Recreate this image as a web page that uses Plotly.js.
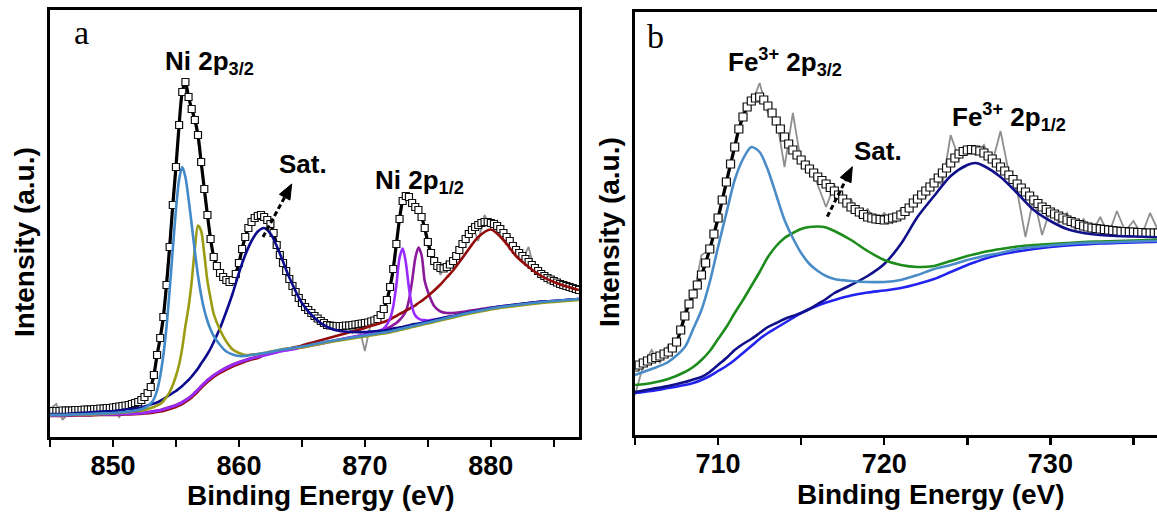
<!DOCTYPE html>
<html><head><meta charset="utf-8">
<script src="https://cdn.plot.ly/plotly-3.0.1.min.js"></script>
<style>html,body{margin:0;padding:0;overflow:hidden;background:#fff}#chart{width:1180px;height:513px}</style>
</head><body><div id="chart"></div>
<script>
// ---------- Panel a : Ni 2p ----------
const dataEnergyA = [
845,845.25,845.5,845.75, 846,846.25,846.5,846.75, 847,847.25,847.5,847.75, 848,848.25,848.5,848.75,
849,849.25,849.5,849.75, 850,850.25,850.5,850.75, 851,851.25,851.5,851.75, 852,852.25,852.5,852.75,
853,853.25,853.5,853.75, 854,854.25,854.5,854.75, 855,855.25,855.5,855.75, 856,856.25,856.5,856.75,
857,857.25,857.5,857.75, 858,858.25,858.5,858.75, 859,859.25,859.5,859.75, 860,860.25,860.5,860.75,
861,861.25,861.5,861.75, 862,862.25,862.5,862.75, 863,863.25,863.5,863.75, 864,864.25,864.5,864.75,
865,865.25,865.5,865.75, 866,866.25,866.5,866.75, 867,867.25,867.5,867.75, 868,868.25,868.5,868.75,
869,869.25,869.5,869.75, 870,870.25,870.5,870.75, 871,871.25,871.5,871.75, 872,872.25,872.5,872.75,
873,873.25,873.5,873.75, 874,874.25,874.5,874.75, 875,875.25,875.5,875.75, 876,876.25,876.5,876.75,
877,877.25,877.5,877.75, 878,878.25,878.5,878.75, 879,879.25,879.5,879.75, 880,880.25,880.5,880.75,
881,881.25,881.5,881.75, 882,882.25,882.5,882.75, 883,883.25,883.5,883.75, 884,884.25,884.5,884.75,
885,885.25,885.5,885.75, 886,886.25,886.5,886.75, 887];
const measuredA = [
26,26,26,26, 26.5,26.5,26.5,26.5, 27,27,27,27.5, 27.5,27.5,28,28,
28.5,28.5,29,29, 29.5,30,30.5,31, 31.5,32,33,34, 35,37,40,44,
50,62,82,99, 120,152,190,232, 270,312,345,355, 340,328,317,302,
275,248,222,198, 180,171,164,160, 157,155,157,163, 174,188,200,209,
215,219,221,222, 220,217,213,204, 192,182,174,166, 158,151,145,139,
134,130,127,124, 121,118.5,116,114, 112,111.5,111,111, 111,111,111.5,111.5,
112,112.5,113,113.5, 114,114.5,115.5,116.5, 118,122,128,137, 150,168,193,218,
236,241,240,234, 230,227,220,209, 195,184,176,171, 169,168.5,170,172.5,
176,181,187,193, 198,203,207,210, 212,214,215,215, 214,213,211,208,
204,200,196,191, 187,184,181,178, 175,172,169,166, 163,161,159,157.5,
156,154.5,153,152, 151,150,149,148, 147];

const rawEnergyA = [845,845.5,846,846.5,847,847.5,848,848.5,849,849.5,850,850.5,851,851.5,852,852.5,853,853.5,854,854.5,855,855.5,856,856.5,857,857.5,858,858.5,859,859.5,860,860.5,861,861.5,862,862.5,863,863.5,864,864.5,865,865.5,866,866.5,867,867.5,868,868.5,869,869.5,870,870.5,871,871.5,872,872.5,873,873.5,874,874.5,875,875.5,876,876.5,877,877.5,878,878.5,879,879.5,880,880.5,881,881.5,882,882.5,883,883.5,884,884.5,885,885.5,886,886.5,887];
const rawA = [28,33,17,25,27,24,28,26,29,27,30,20,31,34,34,40,49,80,120,192,270,348,340,318,276,224,178,166,155,158,175,198,216,222,219,214,190,175,157,146,133,128,120,117,111,112,109,113,104,112,86,116,114,130,148,195,236,243,227,222,190,180,162,176,168,190,196,212,196,222,210,216,200,200,184,178,190,165,166,157,160,150,155,146,150];

const fitEnergyA = [845,846,847,848,849,850,851,852,852.5,853,853.25,853.5,853.75,854,854.25,854.5,854.75,855,855.25,855.5,855.75,856,856.25,856.5,856.75,857,857.25,857.5,857.75,858,858.5,859,859.5,860,860.5,861,861.5,862,862.5,863,863.5,864,865,866,867,868,869,870,871,871.5,872,872.25,872.5,872.75,873,873.25,873.5,873.75,874,874.25,874.5,874.75,875,875.5,876,876.5,877,878,879,880,881,882,883,884,885,886,887];
const ni32Main = [22,22,22.5,23,23.5,24,25,27,29,33.5,38,46.5,61,82,110,147,188,227,257.5,270,260,238,212.5,185.5,161.5,142,127,116,107.5,101,92,85.5,82.5,81,81,82,83,84,85,86.5,87.5,88.5,90.5,93,95.5,97.5,99.5,101.5,103.5,104.5,105.5,106.5,107,108,108.5,109.5,110,111,111.5,112.5,113,114,114.5,116,117.5,119,120.5,123.5,126,128.5,130.5,132,133.5,135,136,137,138];
const ni32Sub = [22,22,22.5,22.5,23,23.5,24.5,26,27,29,30,31.5,33,36,40,45,52,61,72.5,89,111,130,155.5,188.5,211.5,206,183,156,138.5,123,107,95.5,87.5,84,82,82.5,83,84,85.5,86.5,88,88.5,89.5,92,94.5,96.5,98.5,100.5,102.5,103.5,104.5,105.5,106,107,107.5,108.5,109,110,110.5,111.5,112,113,113.5,115,116.5,118,119.5,122.5,125,127.5,129.5,131,132.5,134,135,136,137];
const ni32Sat = [23,23,24,24.5,25.5,26,27.5,29,30.5,32.5,33.5,34.5,36,38,40,42,44,46,48.5,51,54,57,60.5,64.5,68.5,73.5,78,83,88.5,95,109,125.5,143.5,164,182,196,205.5,209,203.5,191,175.5,159.5,134,119,110,106,105,105,106,106.5,107.5,108.5,109,109.5,110,111,111.5,112.5,113,113.5,114,115,115.5,117,118.5,120,121,124,126.5,129,131,132.5,134,135.5,136,137,138];
const ni12Main = [21.5,21.5,22,22,22.5,22.5,23,23.5,24,25,25.5,26,26.5,27.5,28.5,29.5,30.5,31.5,33,34.5,36.5,38.5,41,44,47,50.5,53.5,56.5,59,61.5,65.5,69,72,74.5,76.5,78.5,80,81.5,83,84.5,86,87,89.5,92,94.5,97.5,100,102.5,105.5,108.5,118.5,130.5,152,179,188.5,174.5,149,130,121.5,118.5,117,117,116.5,117.5,118.5,119.5,120.5,123.5,126,128.5,130.5,132,133.5,135,136,137,138];
const ni12Sub = [22,22,22.5,22.5,23,23,23.5,24,24.5,25.5,26,26.5,27,28,29,30,31,32,33.5,35,37,39,41.5,44.5,47.5,51,54,57,59.5,62,66,69.5,72.5,75,77,79,80.5,82,83.5,85,86.5,87.5,90,92.5,95,97.5,100,102.5,105.5,107.5,110,112,114,117,120.5,125.5,137,156,178.5,189.5,182,156,145.5,131,125.5,124,124,125.5,127.5,129.5,131,132.5,134,135.5,136,137,138];
const ni12Sat = [21,21,21.5,21.5,22,22,22.5,23,23.5,24,24.5,25,25.5,26,27,28,29,30,31.5,33,35,37,39.5,42.5,45.5,49,52,55,57.5,60,64,67.5,70.5,73,75.5,77.5,79,82,83.5,85.5,87,88.5,91.5,95,98.5,102,105.5,109,113,115,117.5,119.5,121,123,124.5,126.5,128,130,131.5,134,136,138.5,141,146.5,152.5,159.5,166.5,183.5,200,207.5,197,181,170,161,155,150.5,147];

// ---------- Panel b : Fe 2p ----------
const dataEnergyB = [
705,705.25,705.5,705.75, 706,706.25,706.5,706.75, 707,707.25,707.5,707.75, 708,708.25,708.5,708.75,
709,709.25,709.5,709.75, 710,710.25,710.5,710.75, 711,711.25,711.5,711.75, 712,712.25,712.5,712.75,
713,713.25,713.5,713.75, 714,714.25,714.5,714.75, 715,715.25,715.5,715.75, 716,716.25,716.5,716.75,
717,717.25,717.5,717.75, 718,718.25,718.5,718.75, 719,719.25,719.5,719.75, 720,720.25,720.5,720.75,
721,721.25,721.5,721.75, 722,722.25,722.5,722.75, 723,723.25,723.5,723.75, 724,724.25,724.5,724.75,
725,725.25,725.5,725.75, 726,726.25,726.5,726.75, 727,727.25,727.5,727.75, 728,728.25,728.5,728.75,
729,729.25,729.5,729.75, 730,730.25,730.5,730.75, 731,731.25,731.5,731.75, 732,732.25,732.5,732.75,
733,733.25,733.5,733.75, 734,734.25,734.5,734.75, 735,735.25,735.5,735.75, 736,736.25,736.5,736.75,
737,737.25,737.5];
const measuredB = [
68,70,72,74, 76,77.5,79,81, 83,87,93,105, 119,131,141,150,
160,172,186,201, 217,235,253,271, 288,306,318,328, 334,337,338,335,
329,322,314,306, 298,291,285,280, 275,270,266,262, 258,254.5,251,247.5,
244,240,236,232, 228,225.5,223,220.5, 218,217,216,215.5, 215,216,217,218,
220,223.5,227,232, 236,240,244,248, 252,257,262,267, 272,277,281,283.5,
285,285.5,285,284, 282,279,276,272, 268,264,260,255.5, 251,247,243,239,
235,231.5,228,225.5, 223,221,219,217, 215,213.5,212,210.5, 209,208,207,206.5,
206,205.5,205,204.5, 204,203.5,203.5,203, 203,202.5,202.5,202, 202,202,202,201.5,
201.5,201,201];

const rawEnergyB = [705,705.5,706,706.5,707,707.5,708,708.5,709,709.5,710,710.5,711,711.5,712,712.5,713,713.5,714,714.5,715,715.5,716,716.5,717,717.5,718,718.5,719,719.5,720,720.5,721,721.5,722,722.5,723,723.5,724,724.5,725,725.5,726,726.5,727,727.5,728,728.5,729,729.5,730,730.5,731,731.5,732,732.5,733,733.5,734,734.5,735,735.5,736,736.5,737,737.5];
const rawB = [40,70,85,72,90,88,125,136,180,185,214,250,290,322,330,352,322,318,268,322,272,270,250,228,250,234,236,218,226,212,222,212,226,222,240,238,256,250,300,276,286,280,290,272,304,262,244,198,238,200,226,212,222,205,216,202,218,200,224,204,214,200,222,204,216,203];

const fitEnergyB = [705,706,707,708,708.5,709,709.5,710,710.5,711,711.5,712,712.5,713,713.5,714,714.5,715,715.5,716,716.5,717,718,719,720,721,722,723,724,725,725.5,726,727,728,729,730,731,732,733,734,735,736,737,737.5];
const fe32Main = [60,66,73,88,106,125,153,188,222,255,276,288,283,265,240,215,197,182,171,164,159,156,154,153,153,155,160,166,170,175,177,179,182,186,188,189.5,191,192,192.5,193,193.5,194,194,194.5];
const fe32Sat = [50,52,56,63,68,75,84,96,108,122,135,149,163,178,189,197,202,206,208,208.5,207.5,204,195,184,175,170,168,169,174,179,181,183,186,188.5,190,191,192,193,193.5,194,194.5,195,195.5,196];
const fe12Main = [43,46,49,53,55.5,58,63,70,77,85,91,96,102,108,112,116,119,122,126,131,136,142,150,159,171,191,218,239,259,270,272,269,258,242,225,214,206,202,200,199,198.5,198,197.5,197.5];
const feBackground = [42,44,47,50,52,55,59,64,69,75,82,89,96,102,107,112,117,122,126,129.5,132.5,135,139.5,142.5,144.5,147,151,156,163,170,173,176,180.5,183.5,186,188,189.5,190.5,191.5,192,192.5,193,193.5,194];

const tickValsA = [850,860,870,880];
const tickValsB = [710,720,730];

// ---------- build ----------
const W = 1180, H = 513;
const fx = p => p / W;
const fy = p => 1 - p / H;

function line(x, y, color, xa, ya, width, shape) {
  return {type:'scatter', mode:'lines', x:x, y:y, xaxis:xa, yaxis:ya,
          line:{color:color, width:width || 2.6, shape:shape || 'spline', smoothing:0.8},
          hoverinfo:'skip', showlegend:false};
}
function squares(x, y, xa, ya, size) {
  return {type:'scatter', mode:'markers', x:x, y:y, xaxis:xa, yaxis:ya,
          marker:{symbol:'square', size:size, color:'#ffffff', line:{color:'#111111', width:1.2}},
          hoverinfo:'skip', showlegend:false};
}

const data = [
  line(rawEnergyA, rawA, '#8f8f8f', 'x', 'y', 1.8, 'linear'),
  line(dataEnergyA, measuredA, '#000000', 'x', 'y', 3.2),
  squares(dataEnergyA, measuredA, 'x', 'y', 7),
  line(fitEnergyA, ni12Sub, '#8b1a9b', 'x', 'y'),
  line(fitEnergyA, ni12Sat, '#930b0b', 'x', 'y'),
  line(fitEnergyA, ni12Main, '#9a2bff', 'x', 'y'),
  line(fitEnergyA, ni32Sat, '#0b0b8c', 'x', 'y'),
  line(fitEnergyA, ni32Sub, '#9b9b14', 'x', 'y'),
  line(fitEnergyA, ni32Main, '#4189c7', 'x', 'y'),

  line(rawEnergyB, rawB, '#8f8f8f', 'x2', 'y2', 1.8, 'linear'),
  line(dataEnergyB, measuredB, '#000000', 'x2', 'y2', 3.2),
  squares(dataEnergyB, measuredB, 'x2', 'y2', 8),
  line(fitEnergyB, feBackground, '#2323f0', 'x2', 'y2'),
  line(fitEnergyB, fe12Main, '#10108a', 'x2', 'y2'),
  line(fitEnergyB, fe32Sat, '#1c8c1c', 'x2', 'y2'),
  line(fitEnergyB, fe32Main, '#4a8cc8', 'x2', 'y2')
];

const tickFont = {family:'Liberation Sans, Arial, sans-serif', size:27, color:'#000', weight:'bold'};
function xAxis(domain, range, ticks, anchor) {
  return {domain:domain, range:range, anchor:anchor, tickmode:'array', tickvals:ticks,
          showline:true, linewidth:3, linecolor:'#000', mirror:true,
          ticks:'outside', ticklen:7, tickwidth:2.5, tickcolor:'#000', ticklabelstandoff:-4,
          minor:{dtick:5, tick0:0, ticks:'outside', ticklen:7, tickwidth:2.5, tickcolor:'#000'},
          showgrid:false, zeroline:false, tickfont:tickFont, fixedrange:true};
}
function yAxis(domain, range, anchor) {
  return {domain:domain, range:range, anchor:anchor, showline:true, linewidth:3, linecolor:'#000',
          mirror:true, ticks:'', showticklabels:false, showgrid:false, zeroline:false, fixedrange:true};
}

const bold = {family:'Liberation Sans, Arial, sans-serif', size:26, color:'#000', weight:'bold'};
const titleFont = {family:'Liberation Sans, Arial, sans-serif', size:28, color:'#000', weight:'bold'};
const serif = {family:'Liberation Serif, Times New Roman, serif', size:34, color:'#000'};
function note(text, x, y, font, xanchor, angle) {
  return {text:text, xref:'paper', yref:'paper', x:fx(x), y:fy(y), showarrow:false,
          xanchor:xanchor || 'center', yanchor:'middle', font:font, textangle:angle || 0};
}

const layout = {
  width:W, height:H, margin:{l:0, r:0, t:0, b:0},
  paper_bgcolor:'#fff', plot_bgcolor:'#fff', showlegend:false,
  xaxis: xAxis([50/W, 579/W], [845, 887], tickValsA, 'y'),
  yaxis: yAxis([(H-437)/H, (H-10)/H], [0, 427], 'x'),
  xaxis2: xAxis([635/W, 1175/W], [705, 737.5], tickValsB, 'y2'),
  yaxis2: yAxis([(H-435)/H, (H-12)/H], [0, 423], 'x2'),
  annotations: [
    note('a', 81, 32, serif),
    note('b', 655, 36, serif),
    note('Ni 2p<sub>3/2</sub>', 163, 62, bold, 'left'),
    note('Sat.', 277, 164, bold, 'left'),
    note('Ni 2p<sub>1/2</sub>', 373, 181, bold, 'left'),
    note('Fe<sup>3+</sup> 2p<sub>3/2</sub>', 726, 62, bold, 'left'),
    note('Sat.', 852, 151, bold, 'left'),
    note('Fe<sup>3+</sup> 2p<sub>1/2</sub>', 950, 117, bold, 'left'),
    note('Binding Energy (eV)', 321, 495, titleFont),
    note('Binding Energy (eV)', 931, 494, titleFont),
    note('Intensity (a.u.)', 24, 242, titleFont, 'center', -90),
    note('Intensity (a.u.)', 609, 232, titleFont, 'center', -90)
  ],
  shapes: [
    {type:'line', xref:'x', yref:'y', x0:861.91, y0:200, x1:863.63, y1:239.8, line:{color:'#000', width:3, dash:'5px,3px'}},
    {type:'path', xref:'x', yref:'y', path:'M864.19,253 L864.05,236.9 L863.21,242.7 Z', fillcolor:'#000', line:{color:'#000', width:1}},
    {type:'line', xref:'x2', yref:'y2', x0:716.57, y0:218.3, x1:717.68, y1:254.9, line:{color:'#000', width:3, dash:'5px,3px'}},
    {type:'path', xref:'x2', yref:'y2', path:'M718.08,268.3 L718.0,252.2 L717.35,257.6 Z', fillcolor:'#000', line:{color:'#000', width:1}}
  ]
};

Plotly.newPlot('chart', data, layout, {staticPlot:true, displayModeBar:false});
</script></body></html>
